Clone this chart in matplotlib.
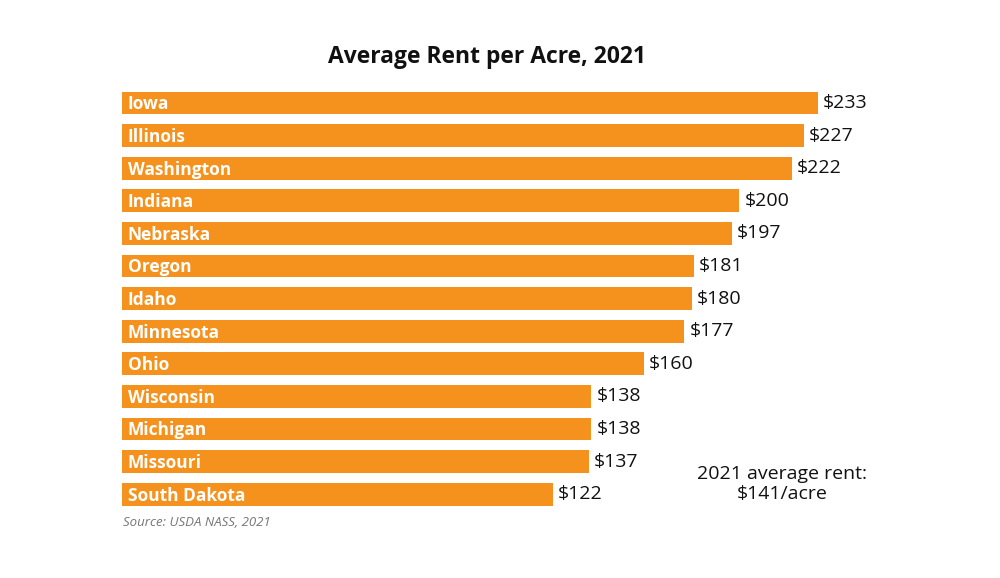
import numpy as np
import matplotlib
matplotlib.use("Agg")
import matplotlib.pyplot as plt

# data
states = ["Iowa", "Illinois", "Washington", "Indiana", "Nebraska", "Oregon", "Idaho",
          "Minnesota", "Ohio", "Wisconsin", "Michigan", "Missouri", "South Dakota"]
rent = [233, 227, 222, 200, 197, 181, 180, 177, 160, 138, 138, 137, 122]
title = "Average Rent per Acre, 2021"
note = "2021 average rent:\n$141/acre"
source = "Source: USDA NASS, 2021"

plt.rcParams['font.family'] = ['Open Sans', 'DejaVu Sans']

W, H = 1000, 578
fig = plt.figure(figsize=(W / 100, H / 100), dpi=100)
ax = fig.add_axes([0, 0, 1, 1])

# pixel mapping: value 0 sits at x=262px, 2.387 px per dollar; bars start at 122px
px_per = 2.387
x0 = 262
bar_start = (122 - x0) / px_per
ax.set_xlim(-x0 / px_per, (W - x0) / px_per)
row0, step = 103, 32.6
ax.set_ylim((H - row0) / step, -row0 / step)

y = np.arange(len(states))
vals = np.array(rent)
ax.barh(y, vals - bar_start, left=bar_start, height=0.7, color="#F5921E")

for i, (s, v) in enumerate(zip(states, vals)):
    ax.text(bar_start + 6 / px_per, i + 0.04, s, color="white", fontsize=12.5,
            fontweight="bold", va="center", ha="left")
    ax.text(v + 5 / px_per, i, f"${v}", color="#111111", fontsize=14,
            va="center", ha="left")

ax.axis("off")

fig.text(487 / W, 1 - 57 / H, title, fontsize=16.5, fontweight="bold",
         ha="center", va="center", color="#111111")
fig.text(782 / W, 1 - 484 / H, note, fontsize=14, ha="center", va="center",
         color="#111111", linespacing=1.1)
fig.text(123 / W, 1 - 523 / H, source, fontsize=9.5, style="italic",
         ha="left", va="center", color="#777777")

fig.savefig("out.png", dpi=100, facecolor="white")
